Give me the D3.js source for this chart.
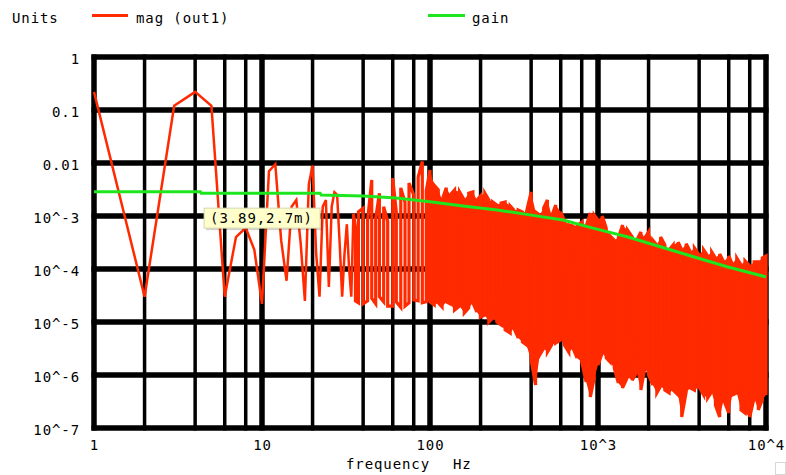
<!DOCTYPE html>
<html>
<head>
<meta charset="utf-8">
<script src="https://cdn.jsdelivr.net/npm/d3@7"></script>
<style>
body { margin: 0; background: #fff; }
svg text { font-family: "DejaVu Sans Mono", monospace; font-size: 14px; letter-spacing: 0.9px; fill: #000; }
</style>
</head>
<body>
<svg id="chart" width="786" height="475"></svg>
<script>
// mag (out1), one bin per Hz at the low end
var magFreq = [1,2,3,4,5,6,7,8,9,10,11,12,13,14,15,16,17,18,19,20,21,22,23,24,25,26,27,28,29,30,31,32,33,34,35];
var magVal = [0.22,3e-5,0.12,0.22,0.12,3e-5,4e-4,6e-4,2.3e-4,2.2e-5,0.007,0.0095,3.5e-4,6e-5,1.5e-3,2e-3,3e-4,2.5e-5,4e-3,9e-3,
              2e-4,3e-5,1.5e-3,2e-3,4.6e-5,1.5e-3,2.8e-3,2.5e-3,3e-4,3e-5,2e-4,7e-4,1e-4,3e-5,1.1e-3];

// above 36 Hz the trace is too dense to follow: max / min per column
var bandFreq = [36,37.5,40,42.5,45,47.5,50,53,56,60,63,67,71,75,80,85,90,95,100,
  106,112,118,125,132,140,150,160,170,180,190,200,
  212,224,236,250,265,280,300,315,335,355,375,400,425,450,475,500,530,560,600,630,670,710,750,800,850,900,950,1000,
  1060,1120,1180,1250,1320,1400,1500,1600,1700,1800,1900,2000,2120,2240,2360,2500,2650,2800,3000,3150,3350,3550,3750,
  4000,4250,4500,4750,5000,5300,5600,6000,6300,6700,7100,7500,8000,8500,9000,9500,10000];
var bandHi = [6e-4,1.2e-3,1.4e-3,8e-4,4.8e-3,9e-4,2.7e-3,1.5e-3,8e-4,5.2e-3,1.2e-3,3.4e-3,1.8e-3,4.2e-3,2.5e-3,5.4e-3,0.0107,3e-3,7.4e-3,
  3.8e-3,3.1e-3,2.0e-3,3.4e-3,2.5e-3,3.1e-3,2.84e-3,2.0e-3,2.7e-3,2.84e-3,2.0e-3,2.4e-3,
  2.7e-3,2.0e-3,1.84e-3,1.61e-3,1.76e-3,1.84e-3,1.55e-3,1.3e-3,1.3e-3,1.19e-3,1.19e-3,2.84e-3,1.19e-3,1.04e-3,1.42e-3,2.0e-3,1.0e-3,1.61e-3,1.19e-3,8.4e-4,6.8e-4,6.5e-4,6.5e-4,7.7e-4,6.5e-4,1.14e-3,1.04e-3,8.4e-4,
  1.0e-3,5.9e-4,4.2e-4,3.5e-4,3.85e-4,6.8e-4,5.4e-4,4.0e-4,3.5e-4,5.0e-4,3.85e-4,5.0e-4,3.5e-4,2.84e-4,4.0e-4,2.84e-4,2.3e-4,2.84e-4,3.2e-4,2.3e-4,3.0e-4,2.1e-4,2.5e-4,
  1.84e-4,2.3e-4,1.76e-4,2.1e-4,1.61e-4,1.92e-4,1.36e-4,1.76e-4,1.24e-4,1.61e-4,1.19e-4,1.42e-4,1.14e-4,1.36e-4,1.36e-4,1.61e-4,1.76e-4];
var bandLo = [2.5e-5,2.3e-5,2.2e-5,2.5e-5,2.8e-5,2.2e-5,3e-5,2.4e-5,2.0e-5,2.0e-5,2.4e-5,1.9e-5,2.0e-5,2.3e-5,2.6e-5,2.5e-5,2.3e-5,2.4e-5,2.4e-5,
  2.1e-5,2.3e-5,1.92e-5,2.4e-5,2.2e-5,1.68e-5,2.0e-5,1.48e-5,1.84e-5,2.3e-5,1.55e-5,1.24e-5,
  1.36e-5,1.0e-5,1.19e-5,1.0e-5,8.8e-6,7.1e-6,6.2e-6,7.7e-6,5.0e-6,4.2e-6,3.7e-6,1.92e-6,6.5e-7,2.4e-6,3.2e-6,2.7e-6,3.7e-6,4.0e-6,4.6e-6,3.7e-6,2.7e-6,3.2e-6,2.1e-6,1.76e-6,7.4e-7,3.85e-7,8.8e-7,1.55e-6,
  2.6e-6,2.1e-6,1.76e-6,1.36e-6,7.1e-7,5.7e-7,9.2e-7,8.0e-7,1.14e-6,5.2e-7,1.36e-6,1.0e-6,6.5e-7,4.6e-7,6.2e-7,5.2e-7,4.6e-7,5.2e-7,4.2e-7,1.61e-7,4.8e-7,5.7e-7,5.2e-7,
  5.9e-7,4.2e-7,3.7e-7,4.8e-7,2.7e-7,1.61e-7,3.4e-7,1.92e-7,4.2e-7,4.6e-7,2.2e-7,1.92e-7,1.61e-7,3.7e-7,2.2e-7,3.4e-7,4.2e-7];
var solidFrom = 95;   // columns merge into one solid band from here on

// gain
var gainFreq = [1,4.3,4.35,22.2,22.5,40,63,100,157,251,392,620,933,1490,2350,3700,5870,10000];
var gainVal = [2.87e-3,2.87e-3,2.68e-3,2.68e-3,2.49e-3,2.38e-3,2.19e-3,1.86e-3,1.55e-3,1.30e-3,1.05e-3,8.4e-4,5.9e-4,4.07e-4,2.63e-4,1.70e-4,1.10e-4,7.1e-5];

var xTicks = [1,10,100,1000,10000];
var xTickLabels = ["1","10","100","10^3","10^4"];
var yTicks = [1,0.1,0.01,1e-3,1e-4,1e-5,1e-6,1e-7];
var yTickLabels = ["1","0.1","0.01","10^-3","10^-4","10^-5","10^-6","10^-7"];
var minorSteps = [2,4,6,8];

var cursor = [3.89, 2.7e-3];
var cursorLabel = "(3.89,2.7m)";

var red = "#ff2a00", green = "#1ee61e";

var svg = d3.select("#chart");
var x = d3.scaleLog().domain([1, 1e4]).range([94, 766]);
var y = d3.scaleLog().domain([1e-7, 1]).range([428, 57]);

// grid
var grid = svg.append("g");
var vlines = [];
xTicks.forEach(function (d) {
    vlines.push({ f: d, major: true });
    if (d < 1e4) minorSteps.forEach(function (m) { vlines.push({ f: d * m, major: false }); });
});
grid.selectAll("line.v").data(vlines).enter().append("line")
    .attr("x1", function (d) { return x(d.f); }).attr("x2", function (d) { return x(d.f); })
    .attr("y1", y(1) - 2.5).attr("y2", y(1e-7) + 2.5)
    .attr("stroke", "#000")
    .attr("stroke-width", function (d) { return d.major ? 5.5 : 3.5; });
grid.selectAll("line.h").data(yTicks).enter().append("line")
    .attr("x1", x(1) - 2.5).attr("x2", x(1e4) + 2.5)
    .attr("y1", function (d) { return y(d); }).attr("y2", function (d) { return y(d); })
    .attr("stroke", "#000").attr("stroke-width", 5.5);

// axes
var yAxis = svg.append("g").attr("transform", "translate(" + x(1) + ",0)")
    .call(d3.axisLeft(y).tickValues(yTicks).tickSize(0).tickPadding(14)
        .tickFormat(function (d, i) { return yTickLabels[i]; }));
yAxis.select(".domain").remove();
yAxis.selectAll("text").attr("dy", "0.48em").attr("font-family", null).attr("font-size", null);

var xAxis = svg.append("g").attr("transform", "translate(0," + y(1e-7) + ")")
    .call(d3.axisBottom(x).tickValues(xTicks).tickSize(0)
        .tickFormat(function (d, i) { return xTickLabels[i]; }));
xAxis.select(".domain").remove();
xAxis.selectAll("text").attr("dy", null).attr("y", 22).attr("font-family", null).attr("font-size", null);

svg.append("text").attr("x", 346).attr("y", 469).text("frequency");
svg.append("text").attr("x", 453).attr("y", 469).text("Hz");

// mag trace: explicit bins, then a meander through the max/min columns
var line = d3.line().x(function (d) { return x(d[0]); }).y(function (d) { return y(d[1]); });
var lowPts = magFreq.map(function (f, i) { return [f, magVal[i]]; });
var bandPts = [lowPts[lowPts.length - 1]];
bandFreq.forEach(function (f, i) {
    if (i % 2 === 0) { bandPts.push([f, bandHi[i]]); bandPts.push([f, bandLo[i]]); }
    else { bandPts.push([f, bandLo[i]]); bandPts.push([f, bandHi[i]]); }
});
var solid = bandFreq.map(function (f, i) { return { f: f, hi: bandHi[i], lo: bandLo[i] }; })
    .filter(function (d) { return d.f >= solidFrom; });

svg.append("path").datum(solid)
    .attr("d", d3.area().x(function (d) { return x(d.f); })
        .y0(function (d) { return y(d.lo); }).y1(function (d) { return y(d.hi); }))
    .attr("fill", red);
svg.append("path").datum(bandPts).attr("d", line)
    .attr("fill", "none").attr("stroke", red).attr("stroke-width", 3.2);
svg.append("path").datum(lowPts).attr("d", line)
    .attr("fill", "none").attr("stroke", red).attr("stroke-width", 2.5);

// gain trace
svg.append("path").datum(gainFreq.map(function (f, i) { return [f, gainVal[i]]; })).attr("d", line)
    .attr("fill", "none").attr("stroke", green).attr("stroke-width", 3);

// legend
svg.append("text").attr("x", 12).attr("y", 23).text("Units");
svg.append("line").attr("x1", 92).attr("x2", 128).attr("y1", 15.5).attr("y2", 15.5).attr("stroke", red).attr("stroke-width", 3);
svg.append("text").attr("x", 136).attr("y", 23).text("mag (out1)");
svg.append("line").attr("x1", 428).attr("x2", 465).attr("y1", 15.5).attr("y2", 15.5).attr("stroke", green).attr("stroke-width", 3);
svg.append("text").attr("x", 472).attr("y", 23).text("gain");

// cursor readout
var tip = svg.append("g").attr("transform", "translate(" + (x(cursor[0]) + 11) + "," + (y(cursor[1]) + 15) + ")");
tip.append("rect").attr("x", 2).attr("y", 2).attr("width", 116).attr("height", 20).attr("fill", "#000").attr("opacity", 0.18);
tip.append("rect").attr("width", 116).attr("height", 20).attr("fill", "#ffffcc").attr("stroke", "#d6d6b0");
tip.append("text").attr("x", 6).attr("y", 15).text(cursorLabel);

// resize grip
svg.append("rect").attr("x", 775.5).attr("y", 462.5).attr("width", 10).attr("height", 12).attr("fill", "none").attr("stroke", "#d8d8d8");
</script>
</body>
</html>
